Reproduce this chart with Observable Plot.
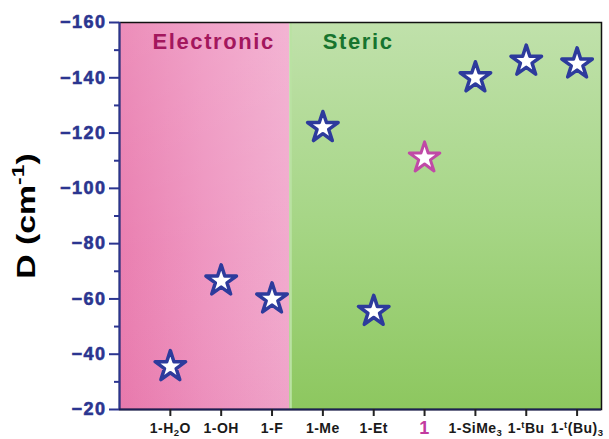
<!DOCTYPE html>
<html>
<head>
<meta charset="utf-8">
<script src="https://cdn.jsdelivr.net/npm/d3@7"></script>
<script src="https://cdn.jsdelivr.net/npm/@observablehq/plot@0.6"></script>
<style>
  html, body { margin: 0; padding: 0; background: #fff; }
</style>
</head>
<body>
<div id="chart"></div>
<script>
// Compounds along the x axis (markup: _{..} subscript, ^{..} superscript)
const compounds = ["1-H_{2}O", "1-OH", "1-F", "1-Me", "1-Et", "1", "1-SiMe_{3}", "1-^{t}Bu", "1-^{t}(Bu)_{3}"];
// Axial zero-field splitting parameter D (cm^-1) for each compound
const dValues = [-35.5, -66.5, -60, -122, -55.5, -111, -140, -146, -145];
// Shaded regions: name and extent along the compound axis
const groupNames = ["Electronic", "Steric"];
const groupStart = [0, 3.35];
const groupEnd = [3.35, 9.48];
// Y axis ticks
const yMajor = [-160, -140, -120, -100, -80, -60, -40, -20];
const yMinor = [-150, -130, -110, -90, -70, -50, -30];
const yLabel = "D (cm^{-1})";

const plain = (s) => s.replace(/[_^]\{([^}]*)\}/g, "$1");
const idx = d3.range(compounds.length);
const refIndex = compounds.indexOf("1");
const axisBlue = "#2b3590";

const chart = Plot.plot({
  width: 609,
  height: 439,
  marginLeft: 119,
  marginRight: 8,
  marginTop: 22,
  marginBottom: 30,
  style: { fontFamily: "'Liberation Sans', Arial, sans-serif", fontWeight: "bold", background: "#fff" },
  x: { type: "linear", domain: [0, 9.48], axis: null },
  y: { domain: [-20, -160], axis: null },
  marks: [
    // Region backgrounds
    Plot.rect([0], { x1: () => groupStart[0], x2: () => groupEnd[0], fill: "url(#grad-electronic)" }),
    Plot.rect([0], { x1: () => groupStart[0], x2: () => groupEnd[0], fill: "url(#grad-haze)" }),
    Plot.rect([1], { x1: () => groupStart[1], x2: () => groupEnd[1], fill: "url(#grad-steric)" }),
    Plot.ruleX([1], { x: () => groupStart[1], stroke: "#b9e2a2", strokeWidth: 2, dx: 1 }),
    // Region titles
    Plot.text([0, 1], {
      x: (i) => groupStart[i], frameAnchor: "top", dy: 19, dx: 33,
      text: (i) => groupNames[i], textAnchor: "start", lineAnchor: "middle",
      fontSize: 22, fontWeight: "bold",
      fill: (i) => (i === 0 ? "#a3175d" : "#17742e")
    }),
    // Frame: black top/right, blue left, dark bottom
    Plot.frame({ stroke: "#111", strokeWidth: 1.5 }),
    Plot.ruleX([0], { stroke: axisBlue, strokeWidth: 2 }),
    Plot.ruleY([-20], { stroke: "#1c1f55", strokeWidth: 2 }),
    // Y axis
    Plot.axisY({ ticks: yMajor, tickSize: 10, tickPadding: 3, stroke: axisBlue, fill: axisBlue, strokeWidth: 2, fontSize: 18, fontWeight: "bold", label: null }),
    Plot.axisY({ ticks: yMinor, tickSize: 5, tickFormat: () => "", stroke: axisBlue, strokeWidth: 2, label: null }),
    // X axis
    Plot.axisX({
      ticks: idx.filter((i) => i !== refIndex).map((i) => i + 1),
      tickFormat: (v) => plain(compounds[v - 1]),
      tickSize: 7, tickPadding: 7, stroke: "#222", fill: "#1a1a1a", strokeWidth: 2,
      fontSize: 14, fontWeight: "bold", label: null
    }),
    Plot.axisX({
      ticks: [refIndex + 1],
      tickFormat: (v) => plain(compounds[v - 1]),
      tickSize: 7, tickPadding: 5, stroke: "#222", fill: "#c23a9f", strokeWidth: 2,
      fontSize: 18, fontWeight: "bold", label: null
    }),
    // Y axis title
    Plot.text([yLabel], {
      frameAnchor: "left", dx: -93, rotate: -90, text: (d) => plain(d),
      textAnchor: "middle", lineAnchor: "middle", fontSize: 25, fontWeight: "bold", fill: "#000"
    }),
    // Data stars
    Plot.dot(idx, {
      filter: (i) => i !== refIndex,
      x: (i) => i + 1, y: (i) => dValues[i],
      symbol: "star", r: 9.6, fill: "#fff", stroke: "#2d3b9c", strokeWidth: 3.5, strokeLinejoin: "round"
    }),
    Plot.dot(idx, {
      filter: (i) => i === refIndex,
      x: (i) => i + 1, y: (i) => dValues[i],
      symbol: "star", r: 9.6, fill: "#fff", stroke: "#c04aa6", strokeWidth: 3, strokeLinejoin: "round"
    })
  ]
});

document.getElementById("chart").appendChild(chart);

// Gradient definitions for the shaded regions
const svg = d3.select(chart);
const defs = svg.insert("defs", ":first-child");
const addGrad = (id, x2, y2, stops) => {
  const g = defs.append("linearGradient").attr("id", id)
    .attr("x1", 0).attr("y1", 0).attr("x2", x2).attr("y2", y2);
  stops.forEach(([o, c, a]) => g.append("stop").attr("offset", o).attr("stop-color", c).attr("stop-opacity", a ?? 1));
};
addGrad("grad-electronic", 1, 0, [[0, "#e97bae"], [0.5, "#ee93bf"], [1, "#f1a8cc"]]);
addGrad("grad-haze", 0, 1, [[0, "#fff", 0.14], [0.6, "#fff", 0.03], [1, "#d0508a", 0.06]]);
addGrad("grad-steric", 0, 1, [[0, "#c0e1ab"], [0.5, "#a7d687"], [1, "#8dc75f"]]);

// Bold, slightly wide lettering throughout
svg.selectAll("text").attr("font-weight", "bold");
svg.selectAll("text").filter(function () { return groupNames.includes(this.textContent); })
  .attr("letter-spacing", "1.6px");
svg.selectAll("g[aria-label='y-axis tick label'] text")
  .attr("letter-spacing", "1.5px").attr("stroke", axisBlue).attr("stroke-width", 0.6);
svg.selectAll("g[aria-label='x-axis tick label'] text").attr("letter-spacing", "0.5px");

// Rich text: subscripts and superscripts as tspans
function setRich(node, markup) {
  const base = parseFloat(getComputedStyle(node).fontSize) || 14;
  const parts = [];
  const re = /([_^])\{([^}]*)\}/g;
  let last = 0, m;
  while ((m = re.exec(markup))) {
    if (m.index > last) parts.push({ t: markup.slice(last, m.index), k: "" });
    parts.push({ t: m[2], k: m[1] });
    last = re.lastIndex;
  }
  if (last < markup.length) parts.push({ t: markup.slice(last), k: "" });
  const sel = d3.select(node).text(null);
  let cur = 0;
  parts.forEach((p) => {
    const target = p.k === "_" ? 0.2 : p.k === "^" ? -0.42 : 0;
    const ts = sel.append("tspan").text(p.t);
    if (p.k) ts.attr("font-size", `${base * 0.68}px`);
    if (target !== cur) ts.attr("dy", `${(target - cur) * base}px`);
    cur = target;
  });
}
const lookup = new Map([...compounds, yLabel].map((s) => [plain(s), s]));
const yTitle = svg.selectAll("text").filter(function () { return this.textContent === plain(yLabel); });
svg.selectAll("text").each(function () {
  const t = this.textContent;
  if (lookup.has(t) && lookup.get(t) !== t) setRich(this, lookup.get(t));
});
// Widen the y title along its reading direction
yTitle.each(function () {
  const tr = this.getAttribute("transform") || "";
  this.setAttribute("transform", tr + " scale(1.35,1)");
});
</script>
</body>
</html>
